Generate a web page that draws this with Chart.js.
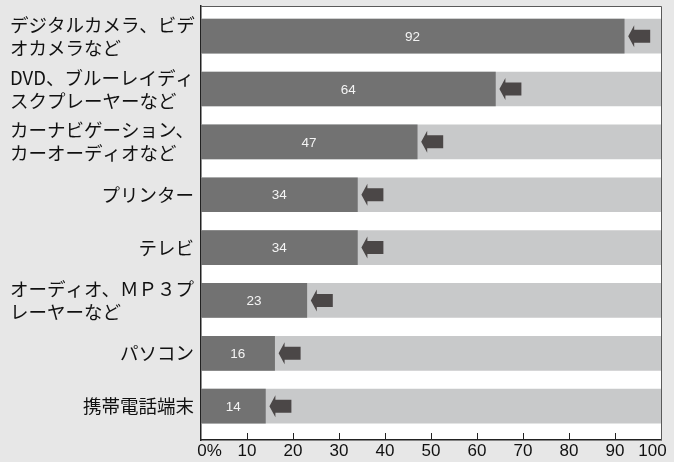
<!DOCTYPE html>
<html>
<head>
<meta charset="utf-8">
<script src="https://cdn.jsdelivr.net/npm/chart.js@4"></script>
<style>
  html, body { margin: 0; padding: 0; background: #e7e7e7; }
  #wrap { width: 674px; height: 462px; }
</style>
</head>
<body>
<div id="wrap"><canvas id="c" width="674" height="462"></canvas></div>
<script>
// Product categories (multi-line labels are arrays)
const categories = [
  ['デジタルカメラ、ビデ', 'オカメラなど'],
  ['DVD、ブルーレイディ', 'スクプレーヤーなど'],
  ['カーナビゲーション、', 'カーオーディオなど'],
  'プリンター',
  'テレビ',
  ['オーディオ、ＭＰ３プ', 'レーヤーなど'],
  'パソコン',
  '携帯電話端末'
];
const shares = [92, 64, 47, 34, 34, 23, 16, 14];
const fullScale = [100, 100, 100, 100, 100, 100, 100, 100];
const xTickValues = [0, 10, 20, 30, 40, 50, 60, 70, 80, 90, 100];

const EN = '\u2002';
const points = (vals) => vals.map((v, i) => ({ x: v, y: i }));

// Category labels: wrapped ones as a left-aligned block, single lines flush right
const categoryLabels = {
  id: 'categoryLabels',
  afterDraw(chart) {
    const ctx = chart.ctx;
    const ys = chart.scales.y;
    const right = ys.right - 7;
    const lh = 23;
    ctx.save();
    ctx.fillStyle = '#111';
    ctx.font = '18.5px "Noto Sans CJK JP", sans-serif';
    ctx.textBaseline = 'middle';
    categories.forEach((lab, i) => {
      const cy = ys.getPixelForValue(i);
      if (Array.isArray(lab)) {
        ctx.textAlign = 'left';
        lab.forEach((line, k) => {
          ctx.fillText(line, 10, cy + (k - (lab.length - 1) / 2) * lh);
        });
      } else {
        ctx.textAlign = 'right';
        ctx.fillText(lab, right, cy);
      }
    });
    ctx.restore();
  }
};

// Value labels in white, centred inside the dark bars, plus left arrows at each bar end
const decorations = {
  id: 'decorations',
  afterDatasetsDraw(chart) {
    const ctx = chart.ctx;
    const meta = chart.getDatasetMeta(0);
    ctx.save();
    meta.data.forEach((bar, i) => {
      const left = chart.scales.x.getPixelForValue(0);
      const cx = (left + bar.x) / 2;
      ctx.fillStyle = '#f4f4f4';
      ctx.font = '13.5px "Liberation Sans", Arial, sans-serif';
      ctx.textAlign = 'center';
      ctx.textBaseline = 'middle';
      ctx.fillText(String(shares[i]), cx, bar.y + 1);

      // arrow pointing back at the bar end
      const tip = bar.x + 4;
      const y = bar.y;
      ctx.fillStyle = '#4b4747';
      ctx.beginPath();
      ctx.moveTo(tip, y);
      ctx.lineTo(tip + 6, y - 11);
      ctx.lineTo(tip + 6, y - 6.5);
      ctx.lineTo(tip + 22, y - 6.5);
      ctx.lineTo(tip + 22, y + 6.5);
      ctx.lineTo(tip + 6, y + 6.5);
      ctx.lineTo(tip + 6, y + 11);
      ctx.closePath();
      ctx.fill();
    });
    ctx.restore();
  },
  afterDraw(chart) {
    const { ctx, chartArea: a } = chart;
    const xs = chart.scales.x;
    ctx.save();
    // frame around plot
    ctx.strokeStyle = '#5a5a5a';
    ctx.lineWidth = 1;
    ctx.beginPath();
    ctx.moveTo(a.left, a.top + 0.5);
    ctx.lineTo(a.right + 0.5, a.top + 0.5);
    ctx.lineTo(a.right + 0.5, a.bottom);
    ctx.stroke();
    // inward tick marks on the value axis
    ctx.strokeStyle = '#222';
    ctx.lineWidth = 1;
    xTickValues.slice(1, -1).forEach(v => {
      const px = Math.round(xs.getPixelForValue(v)) + 0.5;
      ctx.beginPath();
      ctx.moveTo(px, a.bottom - 7);
      ctx.lineTo(px, a.bottom);
      ctx.stroke();
    });
    ctx.restore();
  },
  beforeDraw(chart) {
    const { ctx, chartArea: a } = chart;
    ctx.save();
    ctx.fillStyle = '#e7e7e7';
    ctx.fillRect(0, 0, chart.width, chart.height);
    ctx.fillStyle = '#ffffff';
    ctx.fillRect(a.left, a.top, a.right - a.left, a.bottom - a.top);
    ctx.restore();
  }
};

new Chart(document.getElementById('c'), {
  type: 'bar',
  data: {
    datasets: [
      {
        label: 'share',
        data: points(shares),
        backgroundColor: '#727272',
        grouped: false,
        barThickness: 34
      },
      {
        label: 'full',
        data: points(fullScale),
        backgroundColor: '#c8c9ca',
        grouped: false,
        barThickness: 34
      }
    ]
  },
  options: {
    indexAxis: 'y',
    responsive: false,
    animation: false,
    layout: { padding: { left: 0, right: 13, top: 6, bottom: 0 } },
    plugins: { legend: { display: false }, tooltip: { enabled: false } },
    scales: {
      x: {
        type: 'linear',
        min: 0,
        max: 100,
        offset: false,
        afterBuildTicks(scale) {
          scale.ticks = xTickValues.map(v => ({ value: v }));
        },
        afterFit(scale) {
          scale.height = 22;
          scale.paddingLeft = 0;
          scale.paddingRight = 0;
        },
        grid: { display: false, drawTicks: false, offset: false },
        border: { display: true, color: '#222', width: 1.5 },
        ticks: {
          padding: 1,
          color: '#111',
          maxRotation: 0,
          autoSkip: false,
          font: { family: '"Liberation Sans", Arial, sans-serif', size: 17 },
          callback(v) {
            if (v === 0) return EN + EN + '0%';
            if (v === 100) return '100' + EN + EN;
            return String(v);
          }
        }
      },
      y: {
        type: 'linear',
        reverse: true,
        offset: false,
        min: -0.57,
        max: 7.64,
        afterBuildTicks(scale) {
          scale.ticks = categories.map((_, i) => ({ value: i }));
        },
        afterFit(scale) {
          scale.width = 201;
          scale.paddingTop = 0;
          scale.paddingBottom = 0;
        },
        grid: { display: false, drawTicks: false, offset: false },
        border: { display: true, color: '#222', width: 1.5 },
        ticks: { display: false }
      }
    }
  },
  plugins: [decorations, categoryLabels]
});
</script>
</body>
</html>
